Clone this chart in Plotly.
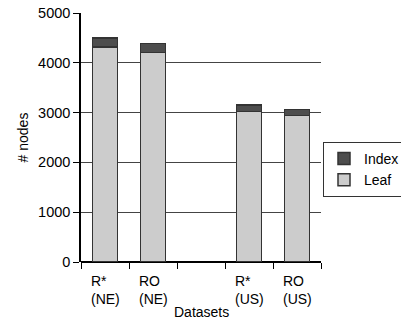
import plotly.graph_objects as go

categories = ["R*<br>(NE)", "RO<br>(NE)", " ", "R*<br>(US)", "RO<br>(US)"]
leaf = [4320, 4210, None, 3020, 2945]
index = [180, 175, None, 128, 120]

FONT = "Liberation Sans, Arial, sans-serif"

fig = go.Figure()
fig.add_trace(go.Bar(x=categories, y=leaf, name="Leaf", width=0.52,
                     marker=dict(color="#cccccc", line=dict(color="#333333", width=1.5))))
fig.add_trace(go.Bar(x=categories, y=index, name="Index", width=0.52,
                     marker=dict(color="#4d4d4d", line=dict(color="#333333", width=1.5))))

for c in categories:
    if c.strip():
        fig.add_annotation(x=c, y=0, xref="x", yref="y", text=c, showarrow=False,
                           align="left", xanchor="center", yanchor="top", yshift=-9,
                           font=dict(family=FONT, size=14, color="#000"))

fig.add_annotation(x=0.5, y=0, xref="paper", yref="paper", text="Datasets", showarrow=False,
                   xanchor="center", yanchor="middle", yshift=-50,
                   font=dict(family=FONT, size=14, color="#000"))

fig.update_layout(
    barmode="stack",
    width=401, height=324,
    margin=dict(l=81, r=80, t=13, b=62, autoexpand=False),
    paper_bgcolor="white", plot_bgcolor="white",
    font=dict(family=FONT, size=14, color="#000"),
    showlegend=True,
    legend=dict(x=(323 - 81) / 240, y=(262 - 142) / 249, xanchor="left", yanchor="top",
                bordercolor="#333333", borderwidth=1, traceorder="reversed",
                font=dict(family=FONT, size=14), itemwidth=30,
                tracegroupgap=0),
)
fig.update_xaxes(type="category", showticklabels=False, ticks="outside", tickson="boundaries",
                 ticklen=6, tickcolor="#000", showline=False, showgrid=False, automargin=False)
fig.update_yaxes(range=[0, 5000], dtick=1000, ticks="outside", ticklen=6, tickcolor="#000",
                 showline=True, linecolor="#000", linewidth=1.5, automargin=False,
                 showgrid=True, gridcolor="#444444", gridwidth=1,
                 zeroline=True, zerolinecolor="#000", zerolinewidth=2,
                 tickfont=dict(family=FONT, size=14.5),
                 title=dict(text="# nodes", standoff=6, font=dict(family=FONT, size=14)))

fig.write_html("out.html", config={"displayModeBar": False},
               post_script="document.body.style.margin='0';")
